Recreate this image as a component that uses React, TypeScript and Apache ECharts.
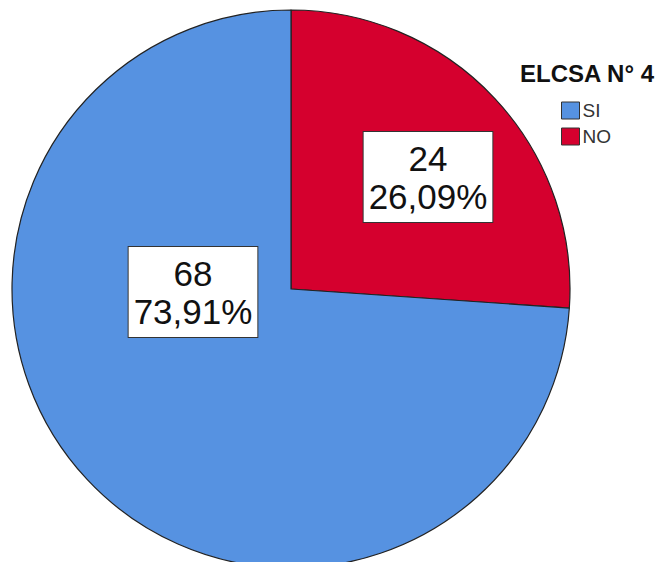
import React, { useEffect, useRef } from "react";
import * as echarts from "echarts";

const legendTitle = "ELCSA N° 4";
const categories = ["NO", "SI"];
const counts = [24, 68];
const legendOrder = ["SI", "NO"];
const colors: Record<string, string> = { SI: "#5692E1", NO: "#D5002E" };
// label box centres (px) as placed by the original software
const labelCenters: Record<string, [number, number]> = {
  NO: [428, 177],
  SI: [193, 292],
};

export default function App() {
  const ref = useRef<HTMLDivElement>(null);
  useEffect(() => {
    if (!ref.current) return;
    const chart = echarts.init(ref.current, undefined, { renderer: "svg" });
    const font = "'Liberation Sans', Arial, sans-serif";
    chart.setOption({
      animation: false,
      backgroundColor: "#ffffff",
      title: {
        text: legendTitle,
        left: 520,
        top: 61,
        padding: 0,
        textStyle: { fontFamily: font, fontSize: 24, fontWeight: "bold", color: "#111" },
      },
      legend: {
        data: legendOrder,
        orient: "vertical",
        left: 561,
        top: 101,
        padding: 0,
        itemWidth: 18,
        itemHeight: 17,
        itemGap: 7,
        icon: "rect",
        itemStyle: { borderColor: "#333", borderWidth: 1 },
        textStyle: { fontFamily: font, fontSize: 19, color: "#333", padding: [0, 0, 0, -2] },
      },
      series: [
        {
          type: "pie",
          center: [291, 289],
          radius: 279,
          startAngle: 90,
          clockwise: true,
          avoidLabelOverlap: false,
          itemStyle: { borderColor: "#222", borderWidth: 1.2 },
          label: {
            show: true,
            position: "inside",
            formatter: (p: any) =>
              `${p.value}\n${p.percent.toFixed(2).replace(".", ",")}%`,
            fontFamily: font,
            fontSize: 35,
            lineHeight: 38,
            color: "#111",
            backgroundColor: "#ffffff",
            borderColor: "#333",
            borderWidth: 1,
            padding: [9, 5, 5, 5],
          },
          labelLine: { show: false },
          labelLayout: (params: any) => {
            const name = categories[params.dataIndex];
            const c = labelCenters[name];
            return { x: c[0], y: c[1] };
          },
          emphasis: { disabled: true },
          data: categories.map((n, i) => ({
            name: n,
            value: counts[i],
            itemStyle: { color: colors[n] },
          })),
        },
      ],
    });
    return () => chart.dispose();
  }, []);
  return (
    <div
      ref={ref}
      style={{ position: "absolute", left: 0, top: 0, width: 661, height: 562 }}
    />
  );
}
